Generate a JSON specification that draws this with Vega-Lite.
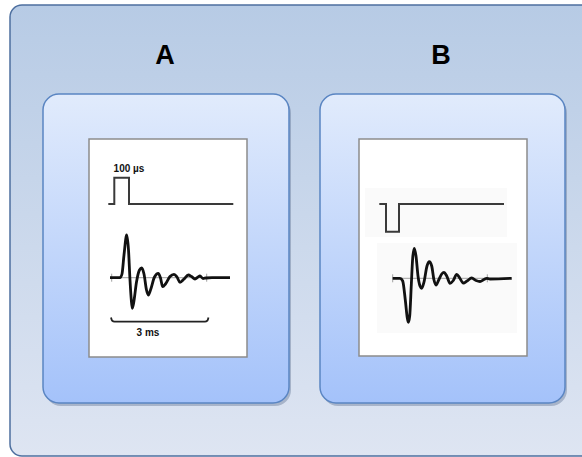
{
  "$schema": "https://vega.github.io/schema/vega-lite/v6.json",
  "width": 582,
  "height": 457,
  "autosize": {"type": "fit", "contains": "padding"},
  "padding": 0,
  "background": "white",
  "config": {"view": {"stroke": null}},
  "datasets": {
    "outer": [{"x": 10, "x2": 600, "y": 5, "y2": 456}],
    "panels": [
      {"panel": "A", "x": 43, "x2": 289, "y": 94, "y2": 403},
      {"panel": "B", "x": 320, "x2": 565, "y": 94, "y2": 403}
    ],
    "boxes": [
      {"panel": "A", "x": 89, "x2": 247, "y": 139, "y2": 357},
      {"panel": "B", "x": 359, "x2": 527, "y": 139, "y2": 356}
    ],
    "patches": [
      {"panel": "B", "x": 365, "x2": 507, "y": 188, "y2": 237},
      {"panel": "B", "x": 377, "x2": 517, "y": 243, "y2": 333}
    ],
    "labels": [
      {"label": "A", "x": 165, "y": 56},
      {"label": "B", "x": 441, "y": 56}
    ],
    "notes": [
      {"label": "100 µs", "x": 129, "y": 169},
      {"label": "3 ms", "x": 148, "y": 333}
    ],
    "baselines": [
      {"trace": "A", "x": 111.7, "x2": 206.7, "y": 277.7},
      {"trace": "B", "x": 392.7, "x2": 487.3, "y": 278.3}
    ],
    "ticks": [
      {"trace": "A", "x": 111.7, "y": 273.7, "y2": 281.7},
      {"trace": "A", "x": 206.7, "y": 273.7, "y2": 281.7},
      {"trace": "B", "x": 392.7, "y": 274.3, "y2": 282.3},
      {"trace": "B", "x": 487.3, "y": 274.3, "y2": 282.3}
    ],
    "pulses": [
      {"trace": "A", "i": 0, "x": 108.3, "y": 204},
      {"trace": "A", "i": 1, "x": 114.3, "y": 204},
      {"trace": "A", "i": 2, "x": 114.3, "y": 177.7},
      {"trace": "A", "i": 3, "x": 129, "y": 177.7},
      {"trace": "A", "i": 4, "x": 129, "y": 204},
      {"trace": "A", "i": 5, "x": 233.3, "y": 204},
      {"trace": "B", "i": 0, "x": 379.3, "y": 204},
      {"trace": "B", "i": 1, "x": 386, "y": 204},
      {"trace": "B", "i": 2, "x": 386, "y": 231.7},
      {"trace": "B", "i": 3, "x": 399, "y": 231.7},
      {"trace": "B", "i": 4, "x": 399, "y": 204},
      {"trace": "B", "i": 5, "x": 504, "y": 204}
    ],
    "scalebar": [
      {"i": 0, "x": 111, "y": 317.5},
      {"i": 1, "x": 112, "y": 320.5},
      {"i": 2, "x": 114.5, "y": 321.7},
      {"i": 3, "x": 205, "y": 321.7},
      {"i": 4, "x": 207.5, "y": 320.5},
      {"i": 5, "x": 208.5, "y": 317.5}
    ],
    "waves": [
      {"trace": "A", "i": 0, "x": 110, "y": 277.7},
      {"trace": "A", "i": 1, "x": 120, "y": 277.7},
      {"trace": "A", "i": 2, "x": 122, "y": 274},
      {"trace": "A", "i": 3, "x": 124, "y": 255},
      {"trace": "A", "i": 4, "x": 126.7, "y": 235},
      {"trace": "A", "i": 5, "x": 128.5, "y": 250},
      {"trace": "A", "i": 6, "x": 130, "y": 280},
      {"trace": "A", "i": 7, "x": 131.3, "y": 300},
      {"trace": "A", "i": 8, "x": 132.3, "y": 308.3},
      {"trace": "A", "i": 9, "x": 133.8, "y": 302},
      {"trace": "A", "i": 10, "x": 136.5, "y": 282},
      {"trace": "A", "i": 11, "x": 139.5, "y": 270},
      {"trace": "A", "i": 12, "x": 141.7, "y": 268},
      {"trace": "A", "i": 13, "x": 144, "y": 274},
      {"trace": "A", "i": 14, "x": 146.5, "y": 290},
      {"trace": "A", "i": 15, "x": 148.3, "y": 295},
      {"trace": "A", "i": 16, "x": 150.5, "y": 290},
      {"trace": "A", "i": 17, "x": 154.5, "y": 277},
      {"trace": "A", "i": 18, "x": 158.3, "y": 273.3},
      {"trace": "A", "i": 19, "x": 160.5, "y": 278},
      {"trace": "A", "i": 20, "x": 162.7, "y": 286.7},
      {"trace": "A", "i": 21, "x": 165.5, "y": 284},
      {"trace": "A", "i": 22, "x": 170, "y": 276.5},
      {"trace": "A", "i": 23, "x": 174, "y": 274.3},
      {"trace": "A", "i": 24, "x": 177, "y": 277},
      {"trace": "A", "i": 25, "x": 180, "y": 282.3},
      {"trace": "A", "i": 26, "x": 184, "y": 279},
      {"trace": "A", "i": 27, "x": 188.3, "y": 275},
      {"trace": "A", "i": 28, "x": 191.5, "y": 276.5},
      {"trace": "A", "i": 29, "x": 195, "y": 279},
      {"trace": "A", "i": 30, "x": 198, "y": 277},
      {"trace": "A", "i": 31, "x": 200, "y": 276},
      {"trace": "A", "i": 32, "x": 203, "y": 278.5},
      {"trace": "A", "i": 33, "x": 206, "y": 278},
      {"trace": "A", "i": 34, "x": 212, "y": 277.7},
      {"trace": "A", "i": 35, "x": 230, "y": 277.7},
      {"trace": "B", "i": 0, "x": 392.7, "y": 278.3},
      {"trace": "B", "i": 1, "x": 400, "y": 278.3},
      {"trace": "B", "i": 2, "x": 402.7, "y": 281},
      {"trace": "B", "i": 3, "x": 405.3, "y": 300},
      {"trace": "B", "i": 4, "x": 407.3, "y": 318},
      {"trace": "B", "i": 5, "x": 408.3, "y": 322.3},
      {"trace": "B", "i": 6, "x": 409.7, "y": 316},
      {"trace": "B", "i": 7, "x": 411.3, "y": 285},
      {"trace": "B", "i": 8, "x": 412.7, "y": 258},
      {"trace": "B", "i": 9, "x": 414.3, "y": 248.3},
      {"trace": "B", "i": 10, "x": 416, "y": 256},
      {"trace": "B", "i": 11, "x": 418, "y": 276},
      {"trace": "B", "i": 12, "x": 420, "y": 286},
      {"trace": "B", "i": 13, "x": 421.7, "y": 288.3},
      {"trace": "B", "i": 14, "x": 424, "y": 282},
      {"trace": "B", "i": 15, "x": 427, "y": 266},
      {"trace": "B", "i": 16, "x": 429.3, "y": 261.7},
      {"trace": "B", "i": 17, "x": 431.7, "y": 266},
      {"trace": "B", "i": 18, "x": 434, "y": 280},
      {"trace": "B", "i": 19, "x": 436, "y": 285},
      {"trace": "B", "i": 20, "x": 438.7, "y": 280},
      {"trace": "B", "i": 21, "x": 441.7, "y": 274},
      {"trace": "B", "i": 22, "x": 444, "y": 272.3},
      {"trace": "B", "i": 23, "x": 446.7, "y": 276},
      {"trace": "B", "i": 24, "x": 450, "y": 283.3},
      {"trace": "B", "i": 25, "x": 453.3, "y": 280.5},
      {"trace": "B", "i": 26, "x": 456.7, "y": 274.3},
      {"trace": "B", "i": 27, "x": 459.7, "y": 278},
      {"trace": "B", "i": 28, "x": 463.3, "y": 283},
      {"trace": "B", "i": 29, "x": 467, "y": 281},
      {"trace": "B", "i": 30, "x": 471.7, "y": 278},
      {"trace": "B", "i": 31, "x": 476, "y": 280.5},
      {"trace": "B", "i": 32, "x": 480, "y": 281.5},
      {"trace": "B", "i": 33, "x": 484, "y": 279.5},
      {"trace": "B", "i": 34, "x": 486.7, "y": 278.3},
      {"trace": "B", "i": 35, "x": 490, "y": 279},
      {"trace": "B", "i": 36, "x": 511.7, "y": 278.3}
    ]
  },
  "encoding": {
    "x": {"field": "x", "type": "quantitative", "scale": {"domain": [0, 582], "nice": false, "zero": false}, "axis": null},
    "y": {"field": "y", "type": "quantitative", "scale": {"domain": [0, 457], "reverse": true, "nice": false, "zero": false}, "axis": null}
  },
  "layer": [
    {
      "data": {"name": "outer"},
      "mark": {
        "type": "rect", "clip": true, "cornerRadius": 12, "stroke": "#4d6f9f", "strokeWidth": 1.5,
        "fill": {"gradient": "linear", "x1": 0, "y1": 0, "x2": 0, "y2": 1,
          "stops": [{"offset": 0, "color": "#b7cbe5"}, {"offset": 1, "color": "#dee5f2"}]}
      },
      "encoding": {"x2": {"field": "x2"}, "y2": {"field": "y2"}}
    },
    {
      "data": {"name": "panels"},
      "mark": {"type": "rect", "cornerRadius": 16, "fill": "#4a5f80", "opacity": 0.35,
        "xOffset": 2, "x2Offset": 2, "yOffset": 3, "y2Offset": 3},
      "encoding": {"x2": {"field": "x2"}, "y2": {"field": "y2"}}
    },
    {
      "data": {"name": "panels"},
      "mark": {
        "type": "rect", "cornerRadius": 16, "stroke": "#5a85c2", "strokeWidth": 1.5,
        "fill": {"gradient": "linear", "x1": 0, "y1": 0, "x2": 0, "y2": 1,
          "stops": [{"offset": 0, "color": "#e1ebfc"}, {"offset": 1, "color": "#a4c2fa"}]}
      },
      "encoding": {"x2": {"field": "x2"}, "y2": {"field": "y2"}}
    },
    {
      "data": {"name": "boxes"},
      "mark": {"type": "rect", "fill": "white", "stroke": "#8c8c8c", "strokeWidth": 1.5},
      "encoding": {"x2": {"field": "x2"}, "y2": {"field": "y2"}}
    },
    {
      "data": {"name": "patches"},
      "mark": {"type": "rect", "fill": "#fafafa"},
      "encoding": {"x2": {"field": "x2"}, "y2": {"field": "y2"}}
    },
    {
      "data": {"name": "baselines"},
      "mark": {"type": "rule", "stroke": "#a0a0a0", "strokeWidth": 1},
      "encoding": {"x2": {"field": "x2"}}
    },
    {
      "data": {"name": "ticks"},
      "mark": {"type": "rule", "stroke": "#a0a0a0", "strokeWidth": 1},
      "encoding": {"y2": {"field": "y2"}}
    },
    {
      "data": {"name": "pulses"},
      "mark": {"type": "line", "stroke": "#3a3a3a", "strokeWidth": 2, "strokeJoin": "miter"},
      "encoding": {"detail": {"field": "trace"}, "order": {"field": "i", "type": "quantitative"}}
    },
    {
      "data": {"name": "waves"},
      "mark": {"type": "line", "stroke": "#111111", "strokeWidth": 2.8, "interpolate": "monotone"},
      "encoding": {"detail": {"field": "trace"}, "order": {"field": "i", "type": "quantitative"}}
    },
    {
      "data": {"name": "scalebar"},
      "mark": {"type": "line", "stroke": "#222222", "strokeWidth": 1.8, "interpolate": "monotone"},
      "encoding": {"order": {"field": "i", "type": "quantitative"}}
    },
    {
      "data": {"name": "labels"},
      "mark": {"type": "text", "font": "Liberation Sans", "fontWeight": "bold", "fontSize": 27, "align": "center", "baseline": "middle", "color": "#000000"},
      "encoding": {"text": {"field": "label"}}
    },
    {
      "data": {"name": "notes"},
      "mark": {"type": "text", "font": "Liberation Sans", "fontWeight": "bold", "fontSize": 10, "align": "center", "baseline": "middle", "color": "#111111"},
      "encoding": {"text": {"field": "label"}}
    }
  ]
}
